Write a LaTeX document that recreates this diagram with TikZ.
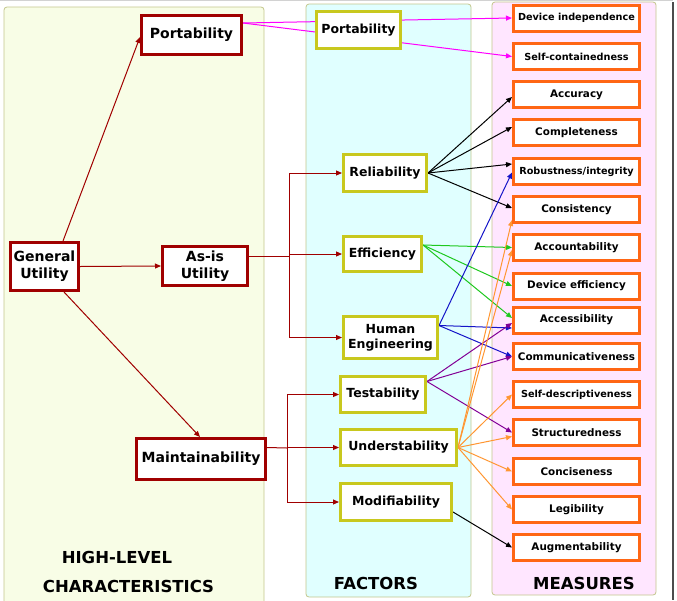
\documentclass[tikz,border=0pt]{standalone}
\usepackage{fontspec}
\setmainfont{DejaVu Sans}
\usetikzlibrary{arrows.meta}
\definecolor{hlred}{RGB}{160,0,0}
\definecolor{factolive}{RGB}{200,200,30}
\definecolor{measorange}{RGB}{255,102,20}
\definecolor{hlpanel}{RGB}{248,253,230}
\definecolor{factpanel}{RGB}{224,255,255}
\definecolor{measpanel}{RGB}{255,230,255}
\definecolor{panelline}{RGB}{195,198,140}
\definecolor{lnmagenta}{RGB}{255,0,255}
\definecolor{lngreen}{RGB}{30,200,30}
\definecolor{lnblue}{RGB}{20,20,200}
\definecolor{lnpurple}{RGB}{130,0,150}
\definecolor{lnorange}{RGB}{255,150,50}
\pgfdeclarelayer{panels}
\pgfdeclarelayer{edges}
\pgfsetlayers{panels,edges,main}

\begin{document}
\begin{tikzpicture}[x=1pt,y=-1pt,
    hlbox/.style={draw=hlred, line width=3pt, fill=white, inner sep=0pt, align=center, font=\bfseries\fontsize{14}{17}\selectfont},
    factbox/.style={draw=factolive, line width=3pt, fill=white, inner sep=0pt, align=center, font=\bfseries\fontsize{12.5}{15}\selectfont},
    measbox/.style={draw=measorange, line width=3pt, fill=white, minimum width=126pt, minimum height=26pt, inner sep=0pt, font=\bfseries\fontsize{10.4}{12}\selectfont},
    meastight/.style={measbox, font=\bfseries\fontsize{9.7}{11}\selectfont},
    heading/.style={font=\bfseries\fontsize{16.5}{18}\selectfont, inner sep=0pt},
    panel/.style={draw=panelline, line width=0.8pt, rounded corners=3pt},
    conn/.style={line width=1pt, -{Triangle[length=6pt,width=5pt]}}]
    \useasboundingbox (0,0) rectangle (677,600);
    % high-level characteristics
    \node[hlbox, minimum width=100pt, minimum height=39pt] (hPort) at (191.5,35) {Portability};
    \node[hlbox, minimum width=68pt, minimum height=48pt] (hGen) at (44.5,266.5) {General\\Utility};
    \node[hlbox, minimum width=85pt, minimum height=39pt] (hAsis) at (205,266) {As-is\\Utility};
    \node[hlbox, minimum width=129pt, minimum height=41pt] (hMaint) at (201,459) {Maintainability};
    % factors
    \node[factbox, minimum width=84pt, minimum height=37pt] (fPort) at (358.5,30) {Portability};
    \node[factbox, minimum width=83pt, minimum height=37pt] (fRel) at (385,173) {Reliability};
    \node[factbox, minimum width=78pt, minimum height=35pt] (fEff) at (382.5,254) {Efficiency};
    \node[factbox, minimum width=94pt, minimum height=42pt] (fHum) at (390.5,337.5) {Human\\Engineering};
    \node[factbox, minimum width=85pt, minimum height=36pt] (fTest) at (383,394.5) {Testability};
    \node[factbox, minimum width=116pt, minimum height=36pt] (fUnd) at (398.5,447.5) {Understability};
    \node[factbox, minimum width=111pt, minimum height=37pt] (fMod) at (396,502) {Modifiability};
    % measures
    \node[meastight] (mDev) at (576.5,18) {Device independence};
    \node[meastight] (mSelf) at (576.5,56.5) {Self-containedness};
    \node[measbox] (mAccu) at (576.5,94.5) {Accuracy};
    \node[measbox] (mComp) at (576.5,132.5) {Completeness};
    \node[meastight] (mRob) at (576.5,171.5) {Robustness/integrity};
    \node[measbox] (mCons) at (576.5,209.5) {Consistency};
    \node[measbox] (mAcct) at (576.5,247.5) {Accountability};
    \node[measbox] (mDeff) at (576.5,286) {Device efficiency};
    \node[measbox] (mAccs) at (576.5,320) {Accessibility};
    \node[measbox] (mComm) at (576.5,356.5) {Communicativeness};
    \node[meastight] (mSdes) at (576.5,394.5) {Self-descriptiveness};
    \node[measbox] (mStru) at (576.5,432.5) {Structuredness};
    \node[measbox] (mConc) at (576.5,471.5) {Conciseness};
    \node[measbox] (mLeg) at (576.5,509.5) {Legibility};
    \node[measbox] (mAug) at (576.5,547.5) {Augmentability};
    % column titles
    \node[heading] (tHigh) at (117,557) {HIGH-LEVEL};
    \node[heading] (tChar) at (128.5,586) {CHARACTERISTICS};
    \node[heading] (tFact) at (376,583) {FACTORS};
    \node[heading] (tMeas) at (584,583) {MEASURES};
    \coordinate (busA) at (289,256);
    \coordinate (busM) at (287,448);
    \begin{pgfonlayer}{panels}
        \draw[gray!35, line width=0.8pt] (0,0.8) -- (673,0.8);
        \draw[panel, fill=hlpanel] (4,7) rectangle (264,606);
        \draw[panel, fill=factpanel] (306,4) rectangle (471,597);
        \draw[panel, fill=measpanel] (492,2) rectangle (656,595);
        \draw[black!70, line width=1.6pt] (673,2) -- (673,600);
    \end{pgfonlayer}
    \begin{pgfonlayer}{edges}
        % general utility tree
        \draw[conn, hlred] ([xshift=18.5pt]hGen.north) -- ([yshift=-2pt]hPort.west);
        \draw[conn, hlred] (hGen.east) -- (hAsis.west);
        \draw[conn, hlred] ([xshift=19.5pt]hGen.south) -- ([xshift=-1pt]hMaint.north);
        \draw[hlred, line width=1pt] ([yshift=10pt]hAsis.east) -- (busA);
        \draw[conn, hlred] (busA) |- (fRel.west);
        \draw[conn, hlred] (busA) |- (fEff.west);
        \draw[conn, hlred] (busA) |- (fHum.west);
        \draw[hlred, line width=1pt] ([yshift=11.5pt]hMaint.east) -- (busM);
        \draw[conn, hlred] (busM) |- (fTest.west);
        \draw[conn, hlred] (busM) |- (fUnd.west);
        \draw[conn, hlred] (busM) |- (fMod.west);
        % factors to measures
        \draw[conn, lnmagenta] ([yshift=12pt]hPort.east) -- (mDev.west);
        \draw[conn, lnmagenta] ([yshift=12pt]hPort.east) -- (mSelf.west);
        \draw[conn, black] (fRel.east) -- ([yshift=-2.5pt]mAccu.west);
        \draw[conn, black] (fRel.east) -- ([yshift=5.5pt]mComp.west);
        \draw[conn, black] (fRel.east) -- ([yshift=7.5pt]mRob.west);
        \draw[conn, black] (fRel.east) -- ([yshift=1.5pt]mCons.west);
        \draw[conn, lngreen] ([yshift=9pt]fEff.east) -- (mAcct.west);
        \draw[conn, lngreen] ([yshift=9pt]fEff.east) -- (mDeff.west);
        \draw[conn, lngreen] ([yshift=9pt]fEff.east) -- ([yshift=2pt]mAccs.west);
        \draw[conn, lnblue] ([yshift=12pt]fHum.east) -- ([yshift=-1pt]mRob.west);
        \draw[conn, lnblue] ([yshift=12pt]fHum.east) -- ([yshift=-8pt]mAccs.west);
        \draw[conn, lnblue] ([yshift=12pt]fHum.east) -- (mComm.west);
        \draw[conn, lnpurple] ([yshift=13pt]fTest.east) -- ([yshift=-3pt]mAccs.west);
        \draw[conn, lnpurple] ([yshift=13pt]fTest.east) -- (mComm.west);
        \draw[conn, lnpurple] ([yshift=13pt]fTest.east) -- (mStru.west);
        \draw[conn, lnorange] (fUnd.east) -- ([yshift=-10.5pt]mCons.west);
        \draw[conn, lnorange] (fUnd.east) -- ([yshift=-2.5pt]mAcct.west);
        \draw[conn, lnorange] (fUnd.east) -- (mSdes.west);
        \draw[conn, lnorange] (fUnd.east) -- ([yshift=-4pt]mStru.west);
        \draw[conn, lnorange] (fUnd.east) -- (mConc.west);
        \draw[conn, lnorange] (fUnd.east) -- (mLeg.west);
        \draw[conn, black] ([yshift=-10pt]fMod.east) -- (mAug.west);
    \end{pgfonlayer}
\end{tikzpicture}
\end{document}
